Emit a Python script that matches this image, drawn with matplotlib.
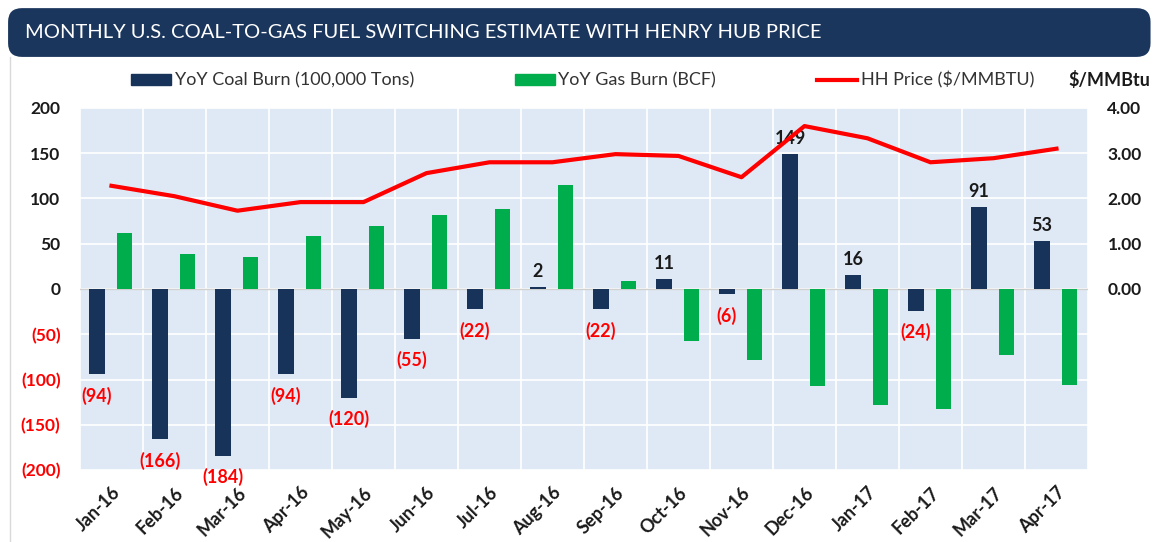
import numpy as np
import matplotlib.pyplot as plt
from matplotlib.patches import FancyBboxPatch, Patch
from matplotlib.lines import Line2D

plt.rcParams['font.family'] = ['Lato', 'DejaVu Sans']

# data
months = ["Jan-16", "Feb-16", "Mar-16", "Apr-16", "May-16", "Jun-16", "Jul-16", "Aug-16",
          "Sep-16", "Oct-16", "Nov-16", "Dec-16", "Jan-17", "Feb-17", "Mar-17", "Apr-17"]
coal = [-94, -166, -184, -94, -120, -55, -22, 2, -22, 11, -6, 149, 16, -24, 91, 53]
gas = [62, 39, 35, 58, 70, 82, 88, 115, 9, -57, -78, -107, -128, -133, -73, -106]
hh = [2.28, 2.05, 1.73, 1.92, 1.92, 2.56, 2.80, 2.80, 2.98, 2.94, 2.47, 3.60, 3.33, 2.80, 2.89, 3.10]

navy = "#17335a"
green = "#00ad4c"
red = "#ff0000"

fig = plt.figure(figsize=(11.54, 5.42), dpi=100)

# title bar
bar = FancyBboxPatch((0.007, 0.895), 0.99, 0.09, boxstyle="round,pad=0,rounding_size=0.012",
                     transform=fig.transFigure, facecolor="#1b365d", edgecolor="none",
                     mutation_aspect=2.1)
fig.patches.append(bar)
fig.text(0.022, 0.94, "MONTHLY U.S. COAL-TO-GAS FUEL SWITCHING ESTIMATE WITH HENRY HUB PRICE",
         color="white", fontsize=14.5, va="center", ha="left")
fig.add_artist(Line2D([0.009, 0.009], [0.0, 0.895], transform=fig.transFigure,
                      color="#d9d9d9", lw=1))

ax = fig.add_axes([0.0693, 0.1328, 0.8735, 0.668])
ax.set_facecolor("#dfe9f6")
x = np.arange(len(months))
w = 0.24
ax.bar(x - 0.23, coal, w, color=navy, zorder=3)
ax.bar(x + 0.21, gas, w, color=green, zorder=3)
ax.axhline(0, color="#d0d0d0", lw=1, zorder=2)

ax.set_xlim(-0.5, len(months) - 0.5)
ax.set_ylim(-200, 200)
ax.set_yticks(range(-200, 201, 50))
ax.set_yticklabels([f"({abs(v)})" if v < 0 else str(v) for v in range(-200, 201, 50)])
for lab, v in zip(ax.get_yticklabels(), range(-200, 201, 50)):
    lab.set_color(red if v < 0 else "#1a1a1a")
    lab.set_fontweight("bold")
    lab.set_fontsize(12.5)
ax.set_xticks(x)
ax.set_xticklabels(months, rotation=45, ha="right", rotation_mode="anchor",
                   fontsize=13, fontweight="bold", color="#1a1a1a")
ax.set_xticks(np.arange(-0.5, len(months), 1), minor=True)
ax.grid(axis="y", color="white", lw=1.2, zorder=1)
ax.grid(axis="x", which="minor", color="white", lw=1.2, zorder=1)
ax.tick_params(axis="both", which="both", length=0)
ax.tick_params(axis="y", pad=14)
ax.tick_params(axis="x", pad=10)
for s in ax.spines.values():
    s.set_visible(False)

for xi, v in zip(x, coal):
    if v < 0:
        ax.annotate(f"({abs(v)})", (xi - 0.23, v), xytext=(0, -9), textcoords="offset points",
                    ha="center", va="top", color=red, fontsize=13, fontweight="bold")
    else:
        ax.annotate(str(v), (xi - 0.23, v), xytext=(0, 5), textcoords="offset points",
                    ha="center", va="bottom", color="#1a1a1a", fontsize=13, fontweight="bold")

ax2 = ax.twinx()
ax2.plot(x, hh, color=red, lw=3, zorder=4)
ax2.set_ylim(-4, 4)
ax2.set_yticks([0, 1, 2, 3, 4])
ax2.set_yticklabels([f"{v:.2f}" for v in range(5)], fontsize=12.5, fontweight="bold", color="#1a1a1a")
ax2.tick_params(axis="y", length=0, pad=14)
for s in ax2.spines.values():
    s.set_visible(False)
fig.text(0.997, 0.852, "$/MMBtu", ha="right", va="center", fontsize=13, fontweight="bold",
         color="#1a1a1a")

handles = [Patch(color=navy), Patch(color=green), Line2D([], [], color=red, lw=3)]
labels = ["YoY Coal Burn (100,000 Tons)", "YoY Gas Burn (BCF)", "HH Price ($/MMBTU)"]
fig.legend(handles, labels, ncol=3, loc="center", bbox_to_anchor=(0.505, 0.852), frameon=False,
           fontsize=13, handlelength=2.2, handleheight=0.55, handletextpad=0.2,
           columnspacing=5.6, labelcolor="#333333")

fig.savefig("out.png", dpi=100)
